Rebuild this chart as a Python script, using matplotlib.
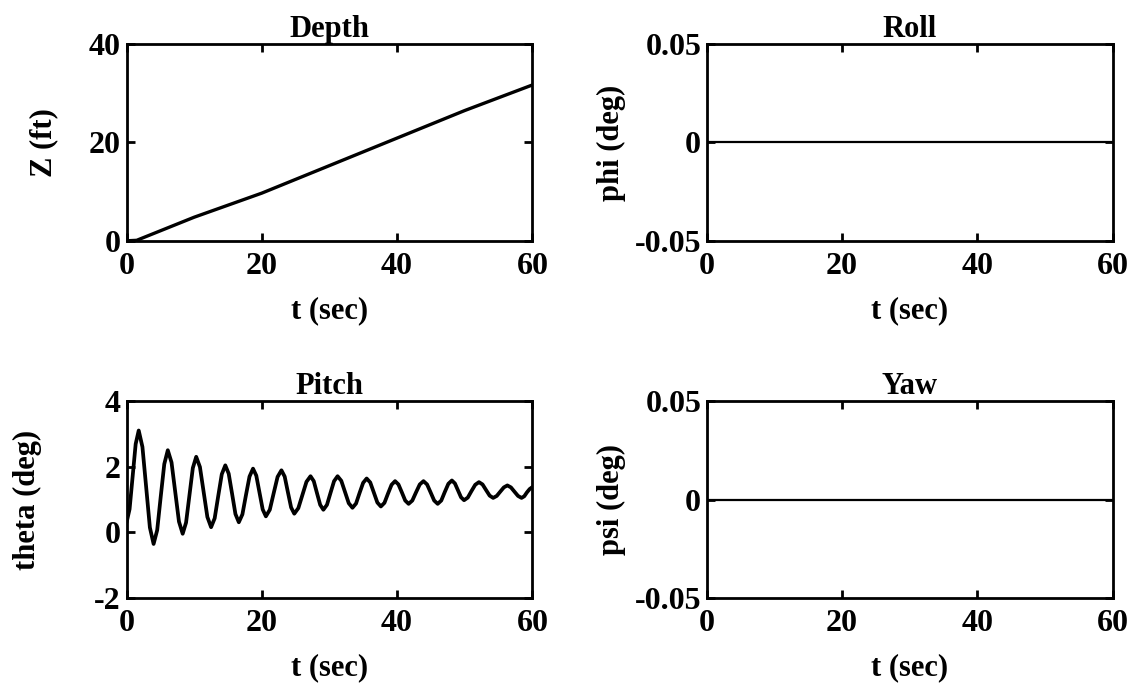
# Vehicle response plots: depth, roll, pitch, yaw
import numpy as np
import matplotlib.pyplot as plt

# depth (ft) vs time
t_depth = [0, 1.5, 10, 20, 30, 40, 50, 60]
z_depth = [0, 0.1, 4.8, 9.7, 15.3, 20.9, 26.5, 31.7]

# pitch (deg) vs time (peaks, troughs and flanks)
t_pitch = [0, 0.45, 0.9, 1.35, 1.8,
           2.35, 2.9, 3.45, 4.0,
           4.53, 5.05, 5.58, 6.1,
           6.65, 7.2, 7.75, 8.3,
           8.8, 9.3, 9.8, 10.3,
           10.85, 11.4, 11.95, 12.5,
           13.03, 13.55, 14.08, 14.6,
           15.1, 15.6, 16.1, 16.6,
           17.13, 17.65, 18.18, 18.7,
           19.18, 19.65, 20.13, 20.6,
           21.18, 21.75, 22.33, 22.9,
           23.38, 23.85, 24.33, 24.8,
           25.4, 26.0, 26.6, 27.2,
           27.68, 28.15, 28.63, 29.1,
           29.63, 30.15, 30.68, 31.2,
           31.75, 32.3, 32.85, 33.4,
           33.93, 34.45, 34.98, 35.5,
           36.03, 36.55, 37.08, 37.6,
           38.13, 38.65, 39.18, 39.7,
           40.2, 40.7, 41.2, 41.7,
           42.25, 42.8, 43.35, 43.9,
           44.43, 44.95, 45.48, 46.0,
           46.53, 47.05, 47.58, 48.1,
           48.55, 49.0, 49.45, 49.9,
           50.45, 51.0, 51.55, 52.1,
           52.63, 53.15, 53.68, 54.2,
           54.73, 55.25, 55.78, 56.3,
           56.83, 57.35, 57.88, 58.4,
           58.8, 59.2, 59.6, 60.0]
th_pitch = [0.3, 0.71, 1.7, 2.69, 3.1,
            2.6, 1.38, 0.15, -0.35,
            0.07, 1.08, 2.08, 2.5,
            2.13, 1.23, 0.33, -0.04,
            0.30, 1.13, 1.96, 2.3,
            1.99, 1.23, 0.47, 0.16,
            0.43, 1.10, 1.77, 2.04,
            1.79, 1.18, 0.56, 0.31,
            0.55, 1.13, 1.70, 1.94,
            1.73, 1.22, 0.70, 0.49,
            0.69, 1.19, 1.69, 1.89,
            1.70, 1.23, 0.76, 0.57,
            0.74, 1.14, 1.54, 1.71,
            1.56, 1.20, 0.84, 0.69,
            0.84, 1.20, 1.56, 1.71,
            1.57, 1.23, 0.89, 0.75,
            0.88, 1.20, 1.51, 1.64,
            1.52, 1.22, 0.91, 0.79,
            0.90, 1.18, 1.45, 1.56,
            1.46, 1.22, 0.97, 0.87,
            0.97, 1.22, 1.46, 1.56,
            1.46, 1.22, 0.97, 0.87,
            0.97, 1.23, 1.48, 1.58,
            1.49, 1.28, 1.07, 0.98,
            1.06, 1.26, 1.45, 1.53,
            1.46, 1.29, 1.12, 1.05,
            1.11, 1.24, 1.37, 1.43,
            1.37, 1.24, 1.11, 1.05,
            1.10, 1.22, 1.32, 1.38]

# roll and yaw stay at zero
t_flat = [0, 60]
phi = [0, 0]
psi = [0, 0]

plt.rcParams['font.family'] = ['Liberation Serif', 'DejaVu Serif']
plt.rcParams['font.weight'] = 'bold'
plt.rcParams['axes.labelweight'] = 'bold'
plt.rcParams['axes.titleweight'] = 'bold'
fs = 22

fig = plt.figure(figsize=(11.4, 6.9), dpi=100)

panels = [
    ([0.111, 0.651, 0.356, 0.285], t_depth, z_depth, 2.4, 'Depth', 'Z (ft)', -0.205, (0, 40), [0, 20, 40], ['0', '20', '40']),
    ([0.620, 0.651, 0.356, 0.285], t_flat, phi, 1.6, 'Roll', 'phi (deg)', -0.235, (-0.05, 0.05), [-0.05, 0, 0.05], ['-0.05', '0', '0.05']),
    ([0.111, 0.133, 0.356, 0.286], t_pitch, th_pitch, 2.7, 'Pitch', 'theta (deg)', -0.245, (-2, 4), [-2, 0, 2, 4], ['-2', '0', '2', '4']),
    ([0.620, 0.133, 0.356, 0.286], t_flat, psi, 1.6, 'Yaw', 'psi (deg)', -0.235, (-0.05, 0.05), [-0.05, 0, 0.05], ['-0.05', '0', '0.05']),
]

for pos, x, y, lw, title, ylab, ylx, ylim, yt, ytl in panels:
    ax = fig.add_axes(pos)
    ax.plot(x, y, color='black', lw=lw, solid_joinstyle='round', solid_capstyle='round')
    ax.set_xlim(0, 60)
    ax.set_ylim(*ylim)
    ax.set_xticks([0, 20, 40, 60])
    ax.set_xticklabels(['0', '20', '40', '60'])
    ax.set_yticks(yt)
    ax.set_yticklabels(ytl)
    ax.tick_params(direction='in', length=6, width=2, labelsize=23,
                   top=True, right=True)
    ax.tick_params(axis='x', pad=8)
    ax.tick_params(axis='y', pad=4)
    for s in ax.spines.values():
        s.set_linewidth(2)
    ax.set_title(title, fontsize=fs, pad=5)
    ax.set_xlabel('t (sec)', fontsize=fs)
    ax.xaxis.set_label_coords(0.5, -0.28)
    ax.set_ylabel(ylab, fontsize=fs, va='center')
    ax.yaxis.set_label_coords(ylx, 0.5)

plt.savefig('out.png', dpi=100)
